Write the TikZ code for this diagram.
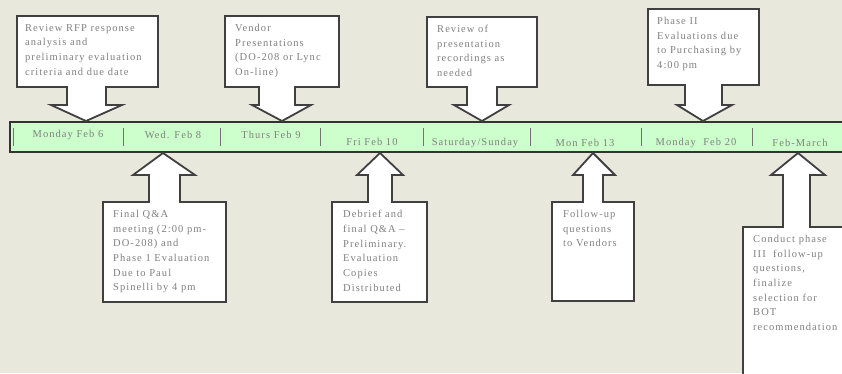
\documentclass[tikz,border=0pt]{standalone}
\usepackage{fontspec}
\usepackage{tikz}
\newfontfamily\boxfont[LetterSpace=10]{Liberation Serif}

\definecolor{bgbeige}{RGB}{233,232,220}
\definecolor{bargreen}{RGB}{204,255,204}
\definecolor{labelgray}{RGB}{128,128,128}

\tikzset{
  callout/.style={fill=white, draw=black!75, line width=1.8pt, line join=miter},
  boxtext/.style={anchor=north west, inner sep=0pt, align=left, text=labelgray,
    font=\boxfont\fontsize{10.5}{14.7}\selectfont},
  daylabel/.style={inner sep=0pt, text=labelgray, font=\boxfont\fontsize{10.5}{12}\selectfont},
  divider/.style={draw=black!55, line width=1pt}
}

\begin{document}
\begin{tikzpicture}[x=1pt,y=-1pt]
    \useasboundingbox (0,0) rectangle (842,373);
    \clip (0,0) rectangle (842,373);
    \fill[bgbeige] (0,0) rectangle (842,373);

    % timeline bar
    \draw[fill=bargreen, draw=black!80, line width=1.8pt] (10,122) rectangle (850,152);
    \foreach \x in {13,123,220,320,423,530,641,752}
        \draw[divider] (\x,128) -- (\x,146);

    % day labels
    \node[daylabel] (mon6)  at (68,135)  {Monday Feb 6};
    \node[daylabel] (wed8)  at (173,135) {Wed. Feb 8};
    \node[daylabel] (thu9)  at (271,135) {Thurs Feb 9};
    \node[daylabel] (fri10) at (372,142) {Fri Feb 10};
    \node[daylabel] (satsun) at (475,143) {Saturday/Sunday};
    \node[daylabel] (mon13) at (585,143) {Mon Feb 13};
    \node[daylabel] (mon20) at (696,143) {Monday\ \ Feb 20};
    \node[daylabel] (febmar) at (800,143) {Feb-March};

    % callouts above the bar
    \draw[callout] (17,16) -- (158,16) -- (158,87) -- (106,87) -- (106,105) -- (122,105)
        -- (86,121) -- (51,105) -- (67,105) -- (67,87) -- (17,87) -- cycle;
    \draw[callout] (225,16) -- (339,16) -- (339,87) -- (295,87) -- (295,105) -- (311,105)
        -- (282,121) -- (252,105) -- (259,105) -- (259,87) -- (225,87) -- cycle;
    \draw[callout] (427,17) -- (537,17) -- (537,87) -- (497,87) -- (497,105) -- (509,105)
        -- (482,121) -- (454,105) -- (467,105) -- (467,87) -- (427,87) -- cycle;
    \draw[callout] (648,9) -- (759,9) -- (759,85) -- (722,85) -- (722,105) -- (732,105)
        -- (703,121) -- (677,105) -- (685,105) -- (685,85) -- (648,85) -- cycle;

    % callouts below the bar
    \draw[callout] (163,153) -- (195,175) -- (180,175) -- (180,202) -- (226,202) -- (226,302)
        -- (103,302) -- (103,202) -- (149,202) -- (149,175) -- (133,175) -- cycle;
    \draw[callout] (380,153) -- (403,175) -- (392,175) -- (392,202) -- (427,202) -- (427,302)
        -- (332,302) -- (332,202) -- (368,202) -- (368,175) -- (357,175) -- cycle;
    \draw[callout] (593,153) -- (615,175) -- (603,175) -- (603,202) -- (634,202) -- (634,301)
        -- (552,301) -- (552,202) -- (583,202) -- (583,175) -- (573,175) -- cycle;
    \draw[callout] (798,153) -- (825,175) -- (810,175) -- (810,227) -- (860,227) -- (860,390)
        -- (743,390) -- (743,227) -- (783,227) -- (783,175) -- (771,175) -- cycle;

    % texts
    \node[boxtext] (rfp) at (25,24) {Review RFP response\\analysis and\\preliminary evaluation\\criteria and due date};
    \node[boxtext] (vendor) at (235,24) {Vendor\\Presentations\\(DO-208 or Lync\\On-line)};
    \node[boxtext] (review) at (437,25) {Review of\\presentation\\recordings as\\needed};
    \node[boxtext] (phase2) at (657,17) {Phase II\\Evaluations due\\to Purchasing by\\4:00 pm};
    \node[boxtext] (finalqa) at (113,210) {Final Q\&A\\meeting (2:00 pm-\\DO-208) and\\Phase 1 Evaluation\\Due to Paul\\Spinelli by 4 pm};
    \node[boxtext] (debrief) at (343,210) {Debrief and\\final Q\&A –\\Preliminary.\\Evaluation\\Copies\\Distributed};
    \node[boxtext] (followup) at (563,210) {Follow-up\\questions\\to Vendors};
    \node[boxtext] (phase3) at (753,235) {Conduct phase\\III\ \ follow-up\\questions,\\finalize\\selection for\\BOT\\recommendation};
\end{tikzpicture}
\end{document}
